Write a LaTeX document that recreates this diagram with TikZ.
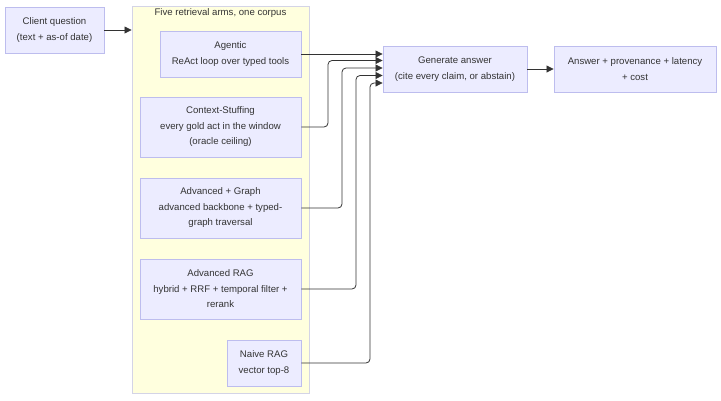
\documentclass[tikz,border=0pt]{standalone}
\usepackage{fontspec}
\setmainfont{Liberation Sans}
\usetikzlibrary{arrows.meta,shadows}
\definecolor{boxfill}{HTML}{ECECFF}
\definecolor{boxline}{HTML}{BDBDEE}
\definecolor{clfill}{HTML}{FFFFDE}
\definecolor{clline}{HTML}{D4D4E6}
\definecolor{ink}{HTML}{333333}
\begin{document}
\begin{tikzpicture}[x=1pt,y=-1pt,
  every node/.style={font=\fontsize{9.6}{15.5}\selectfont, text=ink},
  box/.style={draw=boxline, fill=boxfill, line width=0.9pt, align=center, inner sep=0pt,
    drop shadow={shadow xshift=1pt, shadow yshift=-1pt, fill=black, opacity=0.12}},
  conn/.style={draw=ink, line width=0.8pt, -{Triangle[length=7pt,width=7pt]}, rounded corners=4pt}
]
\useasboundingbox (0,0) rectangle (721,400);
% container
\node[draw=clline, fill=clfill, line width=0.9pt, minimum width=177pt, minimum height=387pt, inner sep=0pt] (cluster) at (220.5,199.5) {};
\node (ctitle) at (220.5,13.5) {Five retrieval arms, one corpus};
% nodes
\node[box, minimum width=99pt, minimum height=46pt] (client) at (54.5,30) {Client question\\(text + as-of date)};
\node[box, minimum width=141pt, minimum height=46pt] (agentic) at (230.5,54) {Agentic\\ReAct loop over typed tools};
\node[box, minimum width=161pt, minimum height=60pt] (context) at (220.5,127) {Context-Stuffing\\every gold act in the window\\(oracle ceiling)};
\node[box, minimum width=161pt, minimum height=60pt] (graph) at (220.5,208) {Advanced + Graph\\advanced backbone + typed-\\graph traversal};
\node[box, minimum width=161pt, minimum height=60pt] (rag) at (220.5,289) {Advanced RAG\\hybrid + RRF + temporal filter +\\rerank};
\node[box, minimum width=74pt, minimum height=46pt] (naive) at (264,363) {Naive RAG\\vector top-8};
\node[box, minimum width=144pt, minimum height=46pt] (gen) at (455,69) {Generate answer\\(cite every claim, or abstain)};
\node[box, minimum width=162pt, minimum height=46pt] (ans) at (635,69) {Answer + provenance + latency\\+ cost};
% connectors
\draw[conn] (client.east) -- (client.east -| cluster.west);
\draw[conn] (agentic.east) -- (agentic.east -| gen.west);
\draw[conn] (context.east) -- (328,127) -- (328,60.5) -- (gen.west |- 0,60.5);
\draw[conn] (graph.east) -- (342,208) -- (342,68) -- (gen.west |- 0,68);
\draw[conn] (rag.east) -- (356,289) -- (356,75.5) -- (gen.west |- 0,75.5);
\draw[conn] (naive.east) -- (370,363) -- (370,83) -- (gen.west |- 0,83);
\draw[conn] (gen.east) -- (ans.west);
\end{tikzpicture}
\end{document}
